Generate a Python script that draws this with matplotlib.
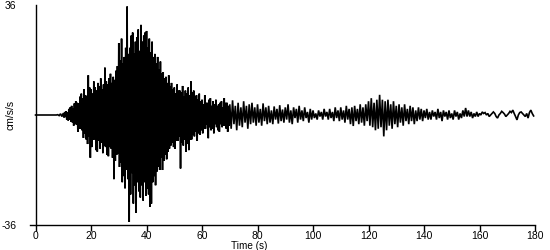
import numpy as np
import matplotlib
matplotlib.use('Agg')
import matplotlib.pyplot as plt

# acceleration record (cm/s/s)
# 0-10 s, 2 samples per second
acc_000 = [0, 0, 0, 0, 0, 0, 0, 0, 0, 0, 0, 0, 0, 0, 0, 0, 0.1, -0.2, 0.4, -0.5]

# 10-70 s (strong motion), 4 samples per second, one row = 5 s
acc_strong = [
    0.6, -0.8, 1.0, -0.7, 1.2, -1.5, 0.9, -1.8, 2.0, -1.6, 2.5, -2.2, 3.0, -2.4, 2.2, -3.5, 3.8, -2.8, 4.5, -3.2,
    4.0, -5.5, 3.8, -4.5, 6.0, -4.5, 7.0, -5.0, 5.5, -7.5, 8.5, -6.0, 6.5, -8.0, 6.0, -9.5, 13.0, -7.0, 9.0, -14.0,
    8.5, -10.5, 7.0, -8.0, 11.0, -8.0, 9.0, -11.5, 8.0, -12.0, 10.5, -8.5, 9.5, -11.0, 12.0, -9.0, 8.5, -12.5, 10.0, -10.0,
    15.5, -10.5, 11.0, -13.0, 10.0, -13.5, 12.0, -10.5, 13.5, -11.0, 10.5, -14.0, 12.5, -21.0, 11.5, -15.0, 14.5, -13.0, 16.0, -12.5,
    23.5, -17.0, 18.0, -15.5, 25.0, -22.0, 17.0, -20.0, 19.0, -24.0, 22.0, -18.0, 35.5, -21.0, 20.0, -35.0, 22.0, -26.0, 26.0, -19.0,
    27.0, -29.0, 20.0, -23.0, 24.0, -32.0, 25.5, -22.0, 28.0, -25.0, 21.0, -27.0, 29.5, -23.0, 24.0, -28.0, 26.0, -22.0, 27.0, -26.5,
    27.5, -24.0, 22.0, -26.0, 25.0, -30.0, 20.5, -29.0, 24.0, -22.0, 19.0, -20.0, 20.0, -23.0, 17.0, -18.5, 19.0, -17.0, 15.0, -18.0,
    17.5, -14.0, 13.5, -18.0, 14.0, -15.0, 12.0, -13.0, 12.5, -14.5, 10.5, -12.0, 13.0, -11.0, 9.5, -10.0, 10.5, -9.0, 8.5, -10.5,
    9.0, -11.0, 7.0, -8.5, 10.0, -8.5, 8.0, -7.0, 8.0, -17.5, 7.5, -9.0, 9.5, -10.0, 6.0, -8.0, 8.0, -12.0, 7.0, -9.5,
    9.0, -11.5, 6.5, -8.0, 11.0, -8.0, 7.5, -6.5, 8.0, -7.0, 6.0, -5.5, 6.5, -8.5, 5.0, -6.0, 7.0, -6.5, 4.5, -5.0,
    5.0, -6.0, 3.5, -4.5, 6.5, -4.5, 4.0, -3.0, 4.0, -7.6, 5.0, -4.0, 5.5, -5.0, 3.0, -4.5, 4.5, -6.0, 3.5, -3.0,
    5.0, -4.0, 3.0, -5.0, 3.5, -5.5, 4.0, -3.0, 4.5, -4.0, 2.5, -3.5, 5.5, -3.5, 4.0, -4.5, 4.0, -5.5, 3.0, -3.5,
]

# 70-180 s (coda), 2 samples per second, one row = 10 s
acc_coda = [
    3.5, -4.5, 4.8, -3.0, 3.0, -5.0, 4.0, -3.5, 2.5, -4.0, 4.5, -2.5, 3.0, -4.5, 3.5, -3.0, 4.0, -2.5, 2.5, -3.5,
    3.5, -2.5, 2.0, -3.5, 3.8, -2.0, 2.5, -3.0, 3.0, -2.5, 1.5, -3.0, 2.8, -1.5, 2.0, -2.8, 3.2, -2.0, 1.8, -2.5,
    2.5, -1.5, 3.5, -2.5, 1.5, -3.0, 2.5, -1.0, 2.0, -2.5, 3.0, -1.5, 1.5, -2.0, 2.5, -1.0, 1.0, -2.5, 2.0, -1.5,
    1.5, -1.0, 0.5, -1.5, 1.5, -0.5, 1.0, -1.5, 2.0, -0.5, 1.0, -1.5, 2.0, -1.0, 1.0, -2.0, 2.5, -1.0, 1.5, -2.0,
    2.5, -1.5, 1.5, -2.5, 3.0, -1.5, 2.0, -3.0, 2.5, -3.6, 3.0, -2.0, 2.0, -3.0, 3.5, -2.5, 2.5, -3.5, 3.5, -2.0,
    4.5, -3.5, 5.5, -4.0, 4.0, -5.0, 5.0, -4.5, 6.6, -4.0, 5.0, -7.0, 4.5, -5.0, 5.0, -3.5, 3.5, -4.5, 4.5, -3.0,
    3.0, -4.0, 3.5, -2.5, 2.5, -3.5, 3.5, -2.0, 2.0, -3.0, 3.0, -2.0, 2.5, -3.0, 1.5, -2.0, 2.5, -1.5, 2.0, -2.0,
    1.5, -1.0, 2.0, -1.5, 1.0, -1.5, 1.5, -0.5, 1.0, -1.5, 2.0, -1.0, 1.0, -2.0, 1.5, -0.5, 1.0, -1.5, 1.5, -1.0,
    0.5, -1.5, 1.5, -0.5, 1.0, -1.5, 0.5, -1.0, 1.5, -0.5, 2.3, -0.5, 1.5, -0.5, 1.0, -1.0, 0.5, -0.5, 1.0, -0.5,
    0.5, 0.0, 1.0, 0.5, 0.8, 0.0, 0.5, -0.5, 0.0, 0.5, 1.0, 0.5, -0.5, -1.0, 0.0, 0.5, 1.2, 0.8, 0.3, -0.5,
    0.0, 0.5, 1.2, 0.8, 1.6, 0.5, -0.5, -1.6, 0.0, 0.8, 1.0, 0.5, 0.0, -0.5, 0.5, -1.0, 0.8, 1.6, 0.5, -0.3,
]

# sample times of each piece
T = np.concatenate([np.arange(len(acc_000)) * 0.5,
                    10.0 + np.arange(len(acc_strong)) * 0.25,
                    70.0 + np.arange(len(acc_coda)) * 0.5])
ACC = np.array(acc_000 + acc_strong + acc_coda)

xticks = [0, 20, 40, 60, 80, 100, 120, 140, 160, 180]
yticks = [-36, 36]

plt.rcParams['font.family'] = ['Liberation Sans', 'DejaVu Sans']

fig = plt.figure(figsize=(5.5, 2.5), dpi=100)
ax = fig.add_axes([30 / 550, 25 / 250, 505 / 550, 220 / 250])

ax.plot(T, ACC, color='black', lw=1.2, solid_joinstyle='miter')

ax.set_xlim(-2, 180)
ax.set_ylim(-36, 36)
ax.spines['top'].set_visible(False)
ax.spines['right'].set_visible(False)
ax.spines['left'].set_position(('data', 0))
ax.spines['left'].set_linewidth(1.0)
ax.spines['bottom'].set_linewidth(1.0)

ax.set_xticks(xticks)
ax.set_yticks(yticks)
ax.set_yticklabels([str(v) for v in yticks])
ax.tick_params(axis='x', direction='out', length=4, width=1.0, pad=0.5, labelsize=7.5)
ax.tick_params(axis='y', length=0, pad=14, labelsize=7.5)

fig.text(249 / 550, 1 - 246 / 250, 'Time (s)', fontsize=7.2, ha='center', va='center')
fig.text(10 / 550, 1 - 115 / 250, 'cm/s/s', rotation=90, fontsize=7.5,
         ha='center', va='center')

fig.savefig('out.png', dpi=100)
